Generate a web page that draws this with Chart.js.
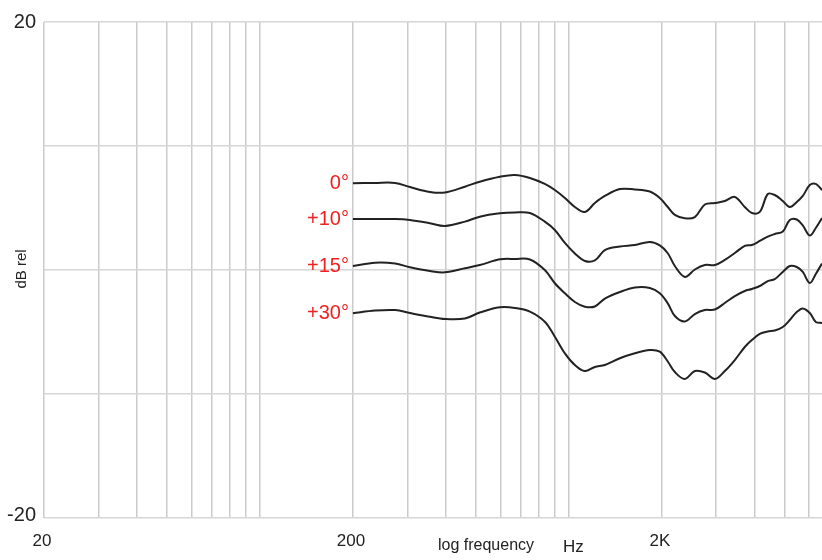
<!DOCTYPE html>
<html>
<head>
<meta charset="utf-8">
<script src="https://cdn.jsdelivr.net/npm/chart.js@4.4.1/dist/chart.umd.min.js"></script>
<style>
    body { margin: 0; background: #fff; }
    canvas { display: block; }
</style>
</head>
<body>
<canvas id="chart" width="822" height="560"></canvas>
<script>
// frequency points (Hz) shared by all curves
const freqHz = [200, 236, 274, 306, 355, 397, 461, 515, 598, 669, 748, 836, 901, 971, 1046, 1127, 1214, 1308,
    1463, 1636, 1829, 1970, 2091, 2204, 2374, 2558, 2756, 2969, 3198, 3446, 3712, 3912, 4151, 4406, 4642,
    4927, 5191, 5469, 5719, 6026, 6301, 6600];

// response in dB, one array per angle
const db0 = [6.99, 7.02, 7.02, 6.69, 6.29, 6.25, 6.72, 7.12, 7.52, 7.66, 7.42, 6.94, 6.45, 5.81, 5.08, 4.68, 5.40, 5.97,
    6.53, 6.49, 6.33, 5.81, 5.08, 4.44, 4.17, 4.27, 5.28, 5.40, 5.56, 5.89, 5.08, 4.60, 4.68, 6.13, 6.05,
    5.56, 5.08, 5.48, 5.97, 6.85, 6.94, 6.45];
const db10 = [4.11, 4.11, 4.11, 4.03, 3.77, 3.55, 3.90, 4.30, 4.57, 4.64, 4.60, 3.90, 3.23, 2.18, 1.33, 0.73, 0.77, 1.61,
    1.90, 2.02, 2.26, 1.98, 1.35, 0.32, -0.56, 0.04, 0.40, 0.40, 0.81, 1.37, 1.94, 2.02, 2.34, 2.69, 2.90,
    3.10, 4.03, 4.07, 3.59, 2.78, 3.39, 4.19];
const db15 = [0.32, 0.59, 0.52, 0.22, -0.08, -0.19, 0.14, 0.40, 0.86, 0.89, 0.85, 0.00, -1.07, -1.88, -2.58, -2.96, -2.94, -2.30,
    -1.77, -1.41, -1.45, -1.88, -2.69, -3.71, -4.15, -3.55, -3.23, -3.19, -2.66, -2.10, -1.69, -1.53, -1.29, -0.89, -0.73,
    -0.16, 0.32, 0.24, -0.16, -1.05, -0.32, 0.52];
const db30 = [-3.49, -3.27, -3.23, -3.47, -3.77, -3.95, -3.91, -3.43, -3.01, -3.06, -3.35, -4.17, -5.38, -6.72, -7.66, -8.15, -7.82, -7.66,
    -7.12, -6.72, -6.45, -6.59, -7.38, -8.23, -8.79, -8.15, -8.27, -8.79, -8.15, -7.26, -6.21, -5.65, -5.16, -4.96, -4.88,
    -4.60, -4.03, -3.39, -3.10, -3.47, -4.19, -4.27];

const curveLabels = ['0°', '+10°', '+15°', '+30°'];

// axis ticks / labels
const xGridHz = [20, 30, 40, 50, 60, 70, 80, 90, 100, 200, 300, 400, 500, 600, 700, 800, 900, 1000,
    2000, 3000, 4000, 5000, 6000];
const xTickLabels = { 20: '20', 200: '200', 2000: '2K' };
const yTickLabels = { 20: '20', '-20': '-20' };

const toPoints = arr => arr.map((v, i) => ({ x: freqHz[i], y: v }));

// draws tick labels, axis titles and curve names
const textPlugin = {
    id: 'textPlugin',
    afterDraw(chart) {
        const ctx = chart.ctx;
        const xs = chart.scales.x;
        const ys = chart.scales.y;
        ctx.save();

        ctx.fillStyle = '#222';
        ctx.font = '20px "Liberation Sans", Arial, sans-serif';
        ctx.textAlign = 'right';
        ctx.textBaseline = 'middle';
        Object.keys(yTickLabels).forEach(v => {
            let y = ys.getPixelForValue(Number(v));
            if (Number(v) < 0) y -= 3;
            ctx.fillText(yTickLabels[v], 36, y);
        });

        ctx.font = '17px "Liberation Sans", Arial, sans-serif';
        ctx.textAlign = 'center';
        Object.keys(xTickLabels).forEach(v => {
            ctx.fillText(xTickLabels[v], xs.getPixelForValue(Number(v)) - 2, 541);
        });

        ctx.font = '16px "Liberation Sans", Arial, sans-serif';
        ctx.textAlign = 'left';
        ctx.fillText('log frequency', 438, 546);
        ctx.font = '17px "Liberation Sans", Arial, sans-serif';
        ctx.fillText('Hz', 563, 547);

        ctx.save();
        ctx.translate(22, 269);
        ctx.rotate(-Math.PI / 2);
        ctx.textAlign = 'center';
        ctx.font = '15px "Liberation Sans", Arial, sans-serif';
        ctx.fillText('dB rel', 0, 0);
        ctx.restore();

        ctx.fillStyle = 'rgb(240, 32, 32)';
        ctx.font = '20px "Liberation Sans", Arial, sans-serif';
        ctx.textAlign = 'right';
        chart.data.datasets.forEach((ds, i) => {
            const pt = chart.getDatasetMeta(i).data[0];
            ctx.fillText(curveLabels[i], pt.x - 4, pt.y);
        });
        ctx.restore();
    }
};

const lineStyle = {
    borderColor: '#222',
    borderWidth: 2,
    pointRadius: 0,
    tension: 0.35,
    fill: false
};

new Chart(document.getElementById('chart').getContext('2d'), {
    type: 'line',
    data: {
        datasets: [
            { label: curveLabels[0], data: toPoints(db0), ...lineStyle },
            { label: curveLabels[1], data: toPoints(db10), ...lineStyle },
            { label: curveLabels[2], data: toPoints(db15), ...lineStyle },
            { label: curveLabels[3], data: toPoints(db30), ...lineStyle }
        ]
    },
    options: {
        responsive: false,
        animation: false,
        layout: { padding: { left: 44, top: 22, right: 0, bottom: 42 } },
        plugins: {
            legend: { display: false },
            tooltip: { enabled: false }
        },
        scales: {
            x: {
                type: 'logarithmic',
                min: 20,
                max: 6600,
                afterBuildTicks: scale => {
                    scale.ticks = xGridHz.map(v => ({ value: v }));
                },
                ticks: { display: false },
                grid: { color: '#cbcbcb', lineWidth: 1.5, drawTicks: false },
                border: { display: false }
            },
            y: {
                min: -20,
                max: 20,
                ticks: { display: false, stepSize: 10 },
                grid: { color: '#d6d6d6', lineWidth: 1.5, drawTicks: false },
                border: { display: false }
            }
        }
    },
    plugins: [textPlugin]
});
</script>
</body>
</html>
